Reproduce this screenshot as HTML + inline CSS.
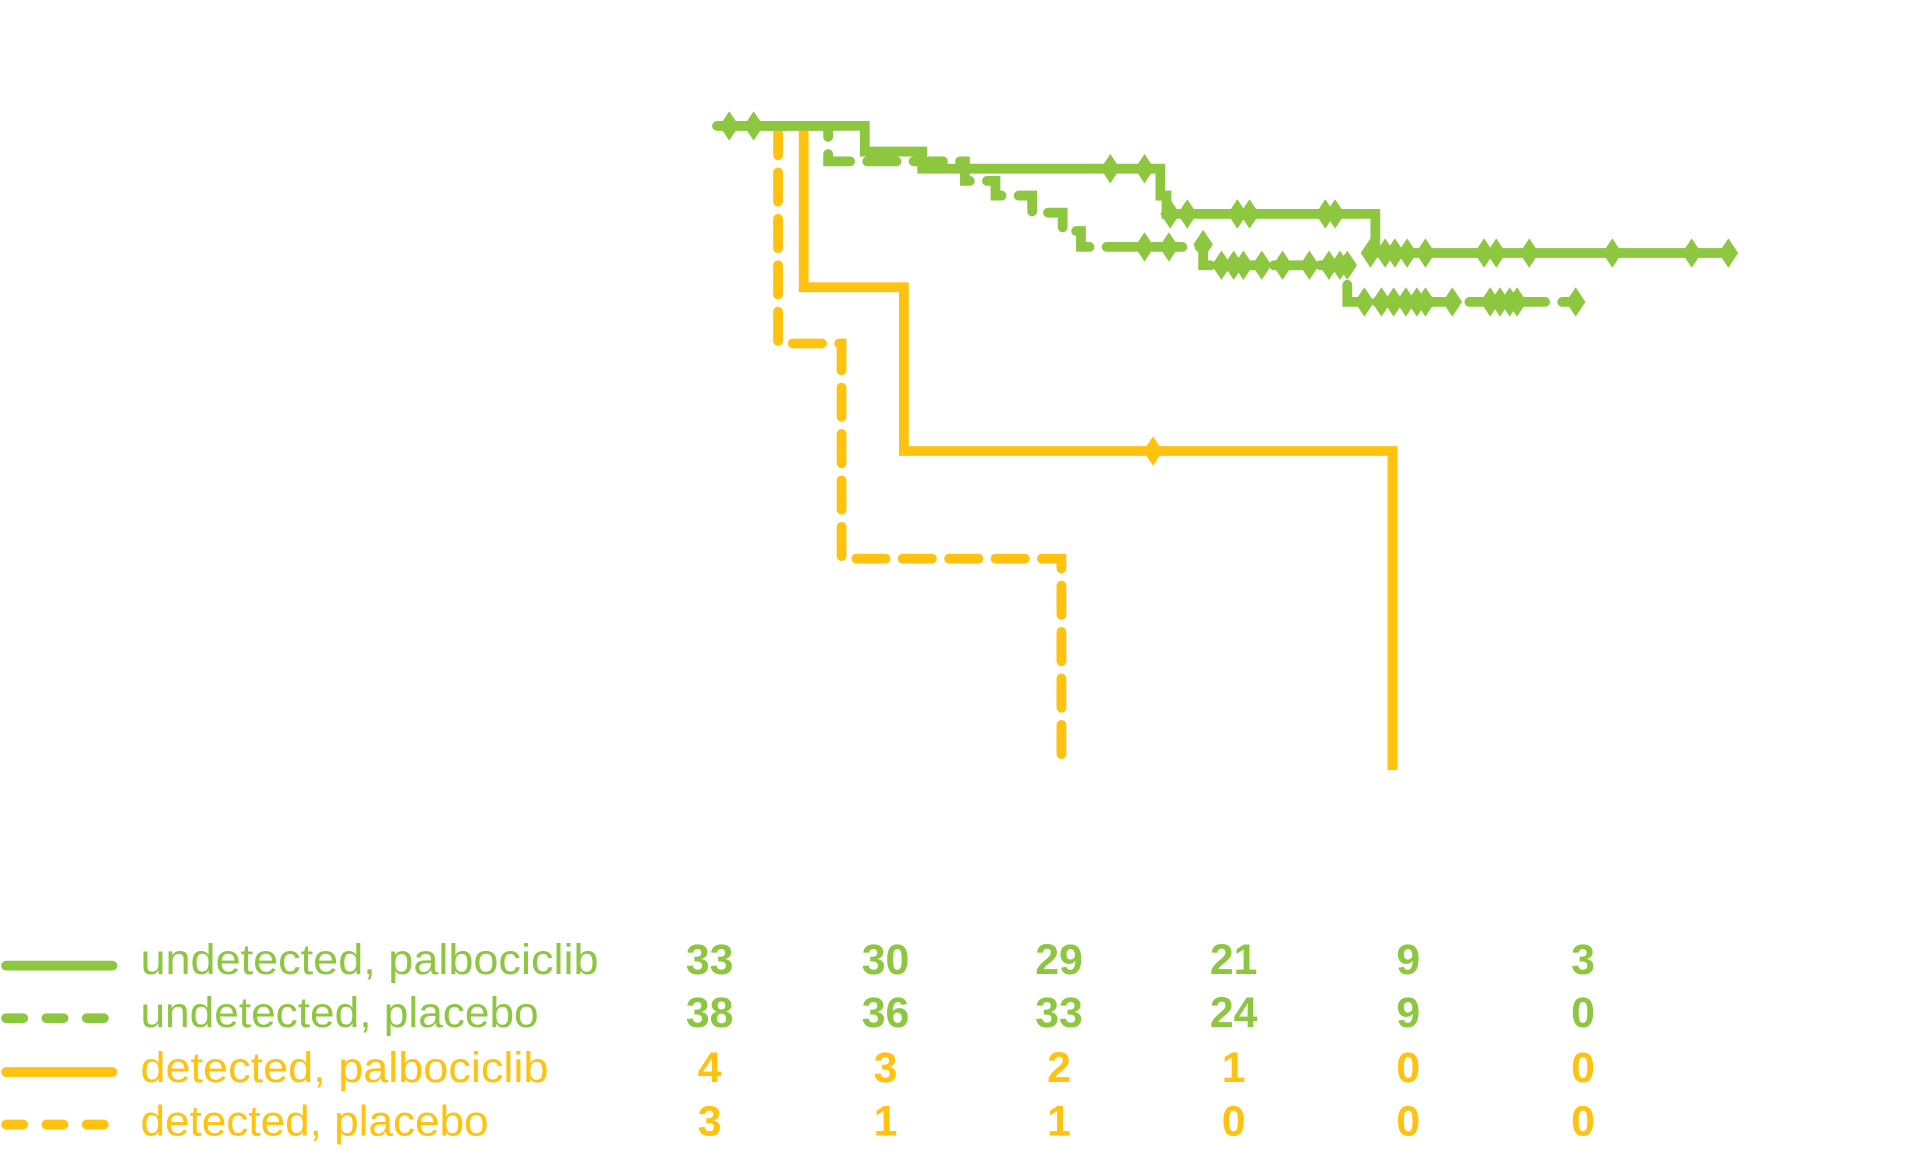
<!DOCTYPE html>
<html><head><meta charset="utf-8"><style>html,body{margin:0;padding:0;background:#fff;}svg{display:block}</style></head>
<body>
<svg width="1914" height="1149" viewBox="0 0 1567 940" preserveAspectRatio="none" xmlns="http://www.w3.org/2000/svg">
<defs>
<path id="dg" d="M0,-12 L8,0 L0,12 L-8,0 Z" fill="#8DC63F"/>
<path id="dy" d="M0,-12 L8,0 L0,12 L-8,0 Z" fill="#FFC20E"/>
</defs>
<g fill="none" stroke-width="8">
<polyline points="637,103 637,281 689,281 689,457 869,457 869,630" stroke="#FFC20E" stroke-dasharray="24 14" stroke-linecap="round"/>
<polyline points="620,103 658,103 658,235 740,235 740,369 1140,369 1140,630" stroke="#FFC20E"/>
<polyline points="587,103 678,103 678,132 790,132 790,148 815,148 815,160 845,160 845,174 870,174 870,189 885,189 885,202 985,202 985,217 1103,217 1103,247 1290,247" stroke="#8DC63F" stroke-dasharray="24 14" stroke-linecap="round"/>
<polyline points="587,103 708,103 708,124 755,124 755,138 950,138 950,160 955,160 955,175 1126,175 1126,207 1420,207" stroke="#8DC63F"/>
</g>
<g>
<use href="#dg" x="597" y="103"/><use href="#dg" x="617" y="103"/>
<use href="#dg" x="909" y="138"/><use href="#dg" x="937" y="138"/>
<use href="#dg" x="958" y="175"/><use href="#dg" x="972" y="175"/><use href="#dg" x="1013" y="175"/><use href="#dg" x="1023" y="175"/><use href="#dg" x="1085" y="175"/><use href="#dg" x="1093" y="175"/>
<use href="#dg" x="1122" y="207"/><use href="#dg" x="1134" y="207"/><use href="#dg" x="1142" y="207"/><use href="#dg" x="1152" y="207"/><use href="#dg" x="1167" y="207"/><use href="#dg" x="1215" y="207"/><use href="#dg" x="1225" y="207"/><use href="#dg" x="1252" y="207"/><use href="#dg" x="1320" y="207"/><use href="#dg" x="1385" y="207"/><use href="#dg" x="1415" y="207"/>
<use href="#dg" x="937" y="202"/><use href="#dg" x="957" y="202"/><use href="#dg" x="985" y="200"/>
<use href="#dg" x="1000" y="217"/><use href="#dg" x="1010" y="217"/><use href="#dg" x="1018" y="217"/><use href="#dg" x="1033" y="217"/><use href="#dg" x="1050" y="217"/><use href="#dg" x="1072" y="217"/><use href="#dg" x="1088" y="217"/><use href="#dg" x="1097" y="217"/><use href="#dg" x="1103" y="217"/>
<use href="#dg" x="1117" y="247"/><use href="#dg" x="1131" y="247"/><use href="#dg" x="1141" y="247"/><use href="#dg" x="1151" y="247"/><use href="#dg" x="1160" y="247"/><use href="#dg" x="1167" y="247"/><use href="#dg" x="1189" y="247"/><use href="#dg" x="1220" y="247"/><use href="#dg" x="1228" y="247"/><use href="#dg" x="1236" y="247"/><use href="#dg" x="1242" y="247"/><use href="#dg" x="1290" y="247"/>
<use href="#dy" x="944" y="369"/>
</g>
<g stroke-width="8" stroke-linecap="round">
<line x1="5" y1="790" x2="92" y2="790" stroke="#8DC63F"/>
<line x1="5" y1="833" x2="92" y2="833" stroke="#8DC63F" stroke-dasharray="14 19"/>
<line x1="5" y1="877" x2="92" y2="877" stroke="#FFC20E"/>
<line x1="5" y1="920" x2="92" y2="920" stroke="#FFC20E" stroke-dasharray="14 19"/>
</g>
<g font-family="'Liberation Sans', sans-serif" font-size="35">
<text x="115" y="797" fill="#8DC63F" textLength="375" lengthAdjust="spacingAndGlyphs">undetected, palbociclib</text>
<text x="115" y="840" fill="#8DC63F" textLength="326" lengthAdjust="spacingAndGlyphs">undetected, placebo</text>
<text x="115" y="885" fill="#FFC20E" textLength="334" lengthAdjust="spacingAndGlyphs">detected, palbociclib</text>
<text x="115" y="929" fill="#FFC20E" textLength="285" lengthAdjust="spacingAndGlyphs">detected, placebo</text>
</g>
<g font-family="'Liberation Sans', sans-serif" font-size="35" font-weight="bold" text-anchor="middle">
<g fill="#8DC63F">
<text x="581" y="797">33</text><text x="725" y="797">30</text><text x="867" y="797">29</text><text x="1010" y="797">21</text><text x="1153" y="797">9</text><text x="1296" y="797">3</text>
<text x="581" y="840">38</text><text x="725" y="840">36</text><text x="867" y="840">33</text><text x="1010" y="840">24</text><text x="1153" y="840">9</text><text x="1296" y="840">0</text>
</g>
<g fill="#FFC20E">
<text x="581" y="885">4</text><text x="725" y="885">3</text><text x="867" y="885">2</text><text x="1010" y="885">1</text><text x="1153" y="885">0</text><text x="1296" y="885">0</text>
<text x="581" y="929">3</text><text x="725" y="929">1</text><text x="867" y="929">1</text><text x="1010" y="929">0</text><text x="1153" y="929">0</text><text x="1296" y="929">0</text>
</g>
</g>
</svg>
</body></html>
